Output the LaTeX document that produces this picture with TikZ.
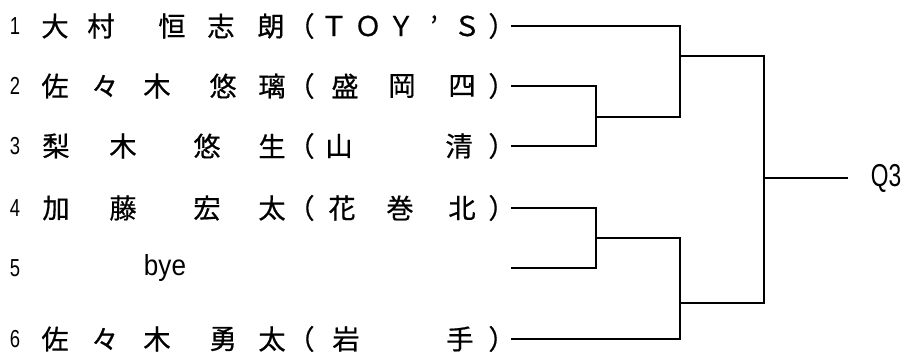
\documentclass[tikz,border=0pt]{standalone}
\usepackage{fontspec}
\usepackage{tikz}
\usetikzlibrary{positioning}
\usetikzlibrary{calc}
\newfontfamily\jp[FakeBold=0.6]{Noto Sans CJK JP}
\newfontfamily\narrow[FakeStretch=0.75]{Liberation Sans}
\newfontfamily\semi[FakeStretch=0.9]{Liberation Sans}
\newfontfamily\qfont[FakeStretch=0.72]{Liberation Sans}
\tikzset{every picture/.style={line width=1.1pt},
kanji/.style={font=\jp\fontsize{15.5}{16}\selectfont,inner sep=0pt},
seed/.style={font=\narrow\fontsize{14}{15}\selectfont,inner sep=0pt},
tag/.style={font=\semi\fontsize{16.5}{17}\selectfont,inner sep=0pt}}

\begin{document}
\begin{tikzpicture}[x=0.02cm,y=-0.02cm]
\useasboundingbox (0,0) rectangle (904,352);

\foreach \n/\y in {1/26,2/86,3/146,4/208,5/268,6/339} {
\node (n\n) at (15,\y) [seed] {\n};
\coordinate (e\n) at (511,\y);
}

\foreach \c/\x [count=\i] in {大/55,村/101,恒/172,志/221,朗/271,（/301,Ｔ/334,Ｏ/368,Ｙ/401,’/434,Ｓ/467,）/502}
\node (a\i) at (\x,26) [kanji] {\c};
\foreach \c/\x [count=\i] in {佐/55,々/105,木/157,悠/223,璃/272,（/301,盛/345,岡/402,四/462,）/502}
\node (b\i) at (\x,86) [kanji] {\c};
\foreach \c/\x [count=\i] in {梨/56,木/123,悠/207,生/272,（/301,山/339,清/459,）/502}
\node (c\i) at (\x,146) [kanji] {\c};
\foreach \c/\x [count=\i] in {加/56,藤/123,宏/207,太/272,（/301,花/342,巻/400,北/462,）/502}
\node (d\i) at (\x,208) [kanji] {\c};
\node (bye) at (165,268) [tag] {bye};
\foreach \c/\x [count=\i] in {佐/55,々/105,木/157,勇/223,太/272,（/301,岩/346,手/460,）/502}
\node (f\i) at (\x,339) [kanji] {\c};

% bracket
\coordinate (m23) at (596,117);
\coordinate (m45) at (596,238);
\coordinate (s1) at (680,56);
\coordinate (s2) at (680,303);
\coordinate (fin) at (764,178);
\coordinate (out) at (848,178);

\draw (e2) -| (m23) |- (e3);
\draw (e4) -| (m45) |- (e5);
\draw (e1) -| (s1) |- (m23);
\draw (m45) -| (s2) |- (e6);
\draw (s1) -| (fin) |- (s2);
\draw (fin) -- (out);
\node (q3) [right=22*0.02cm of out, inner sep=0pt, font=\qfont\fontsize{18}{19}\selectfont] {Q3};

\end{tikzpicture}
\end{document}
